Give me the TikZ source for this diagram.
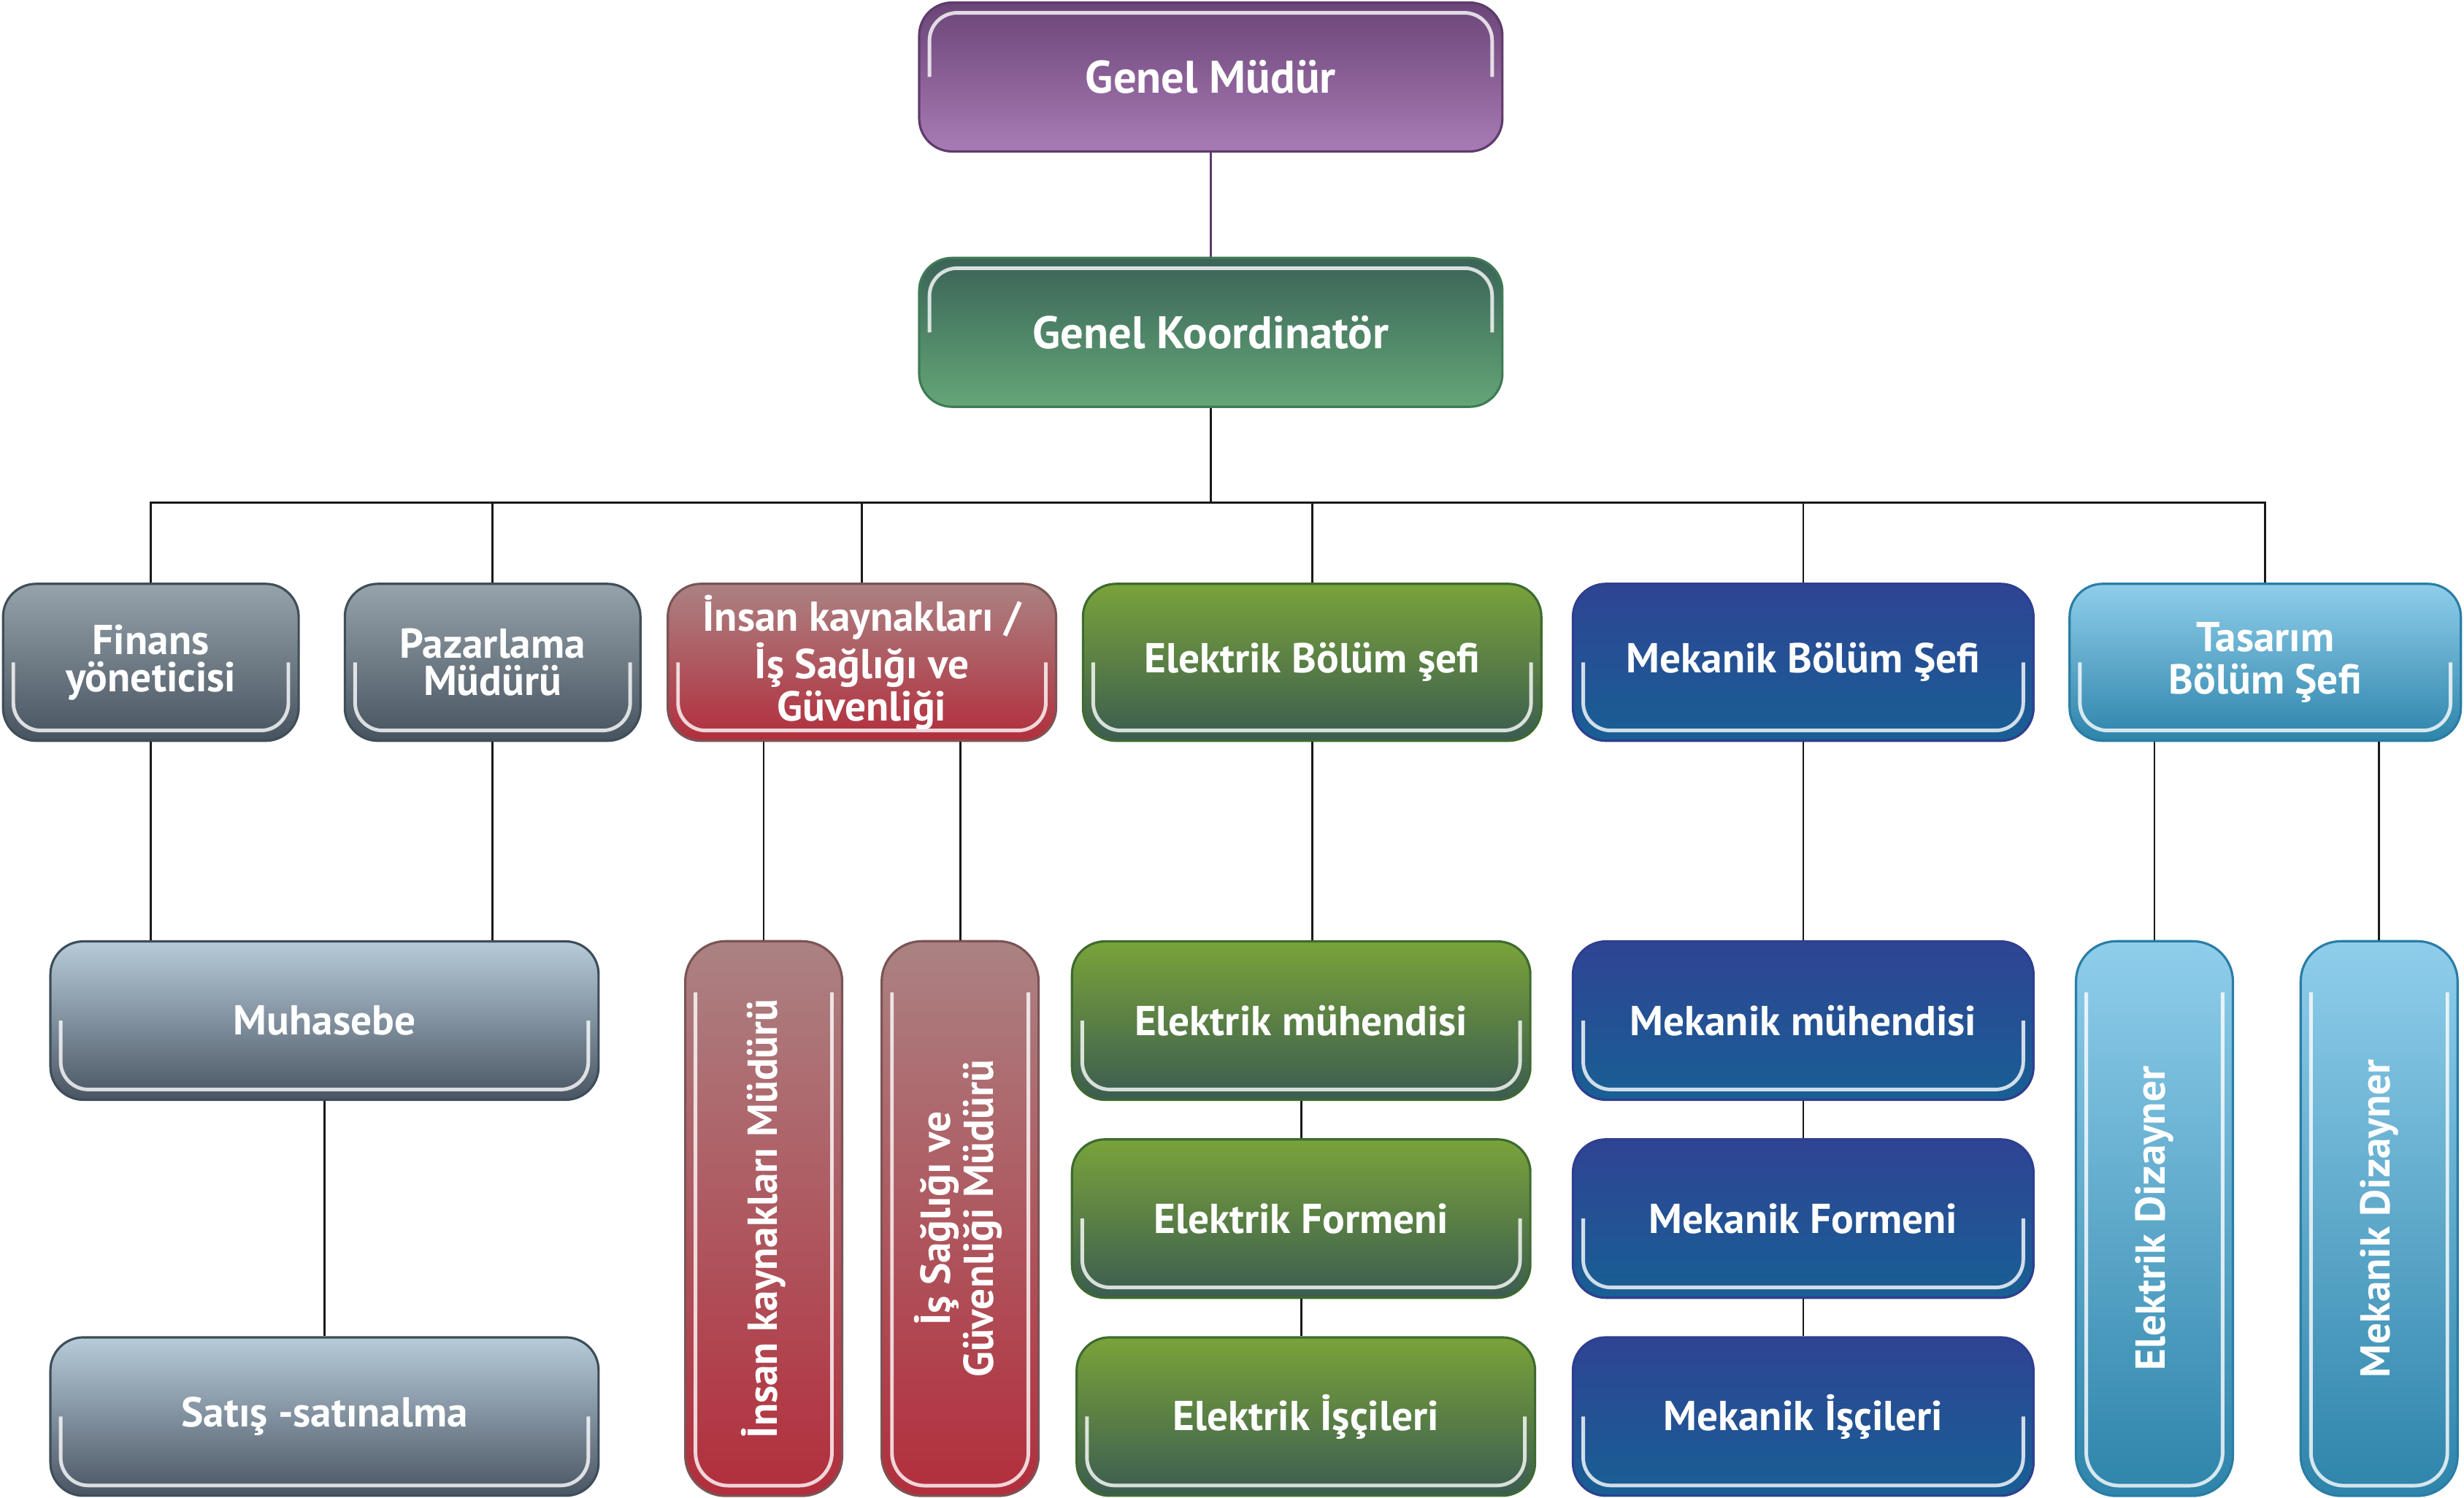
\documentclass[tikz,border=0pt]{standalone}
\usepackage{graphicx}
\usepackage{fontspec}
\setmainfont{PT Sans}
\usetikzlibrary{positioning}

\definecolor{gmtop}{HTML}{6B4578}
\definecolor{gmbot}{HTML}{A87BB5}
\definecolor{gmline}{HTML}{5F3B6B}
\definecolor{gktop}{HTML}{3A6358}
\definecolor{gkbot}{HTML}{64A677}
\definecolor{gkline}{HTML}{3F7B55}
\definecolor{graytop}{HTML}{96A3AB}
\definecolor{graybot}{HTML}{47535F}
\definecolor{grayline}{HTML}{3F4E57}
\definecolor{paletop}{HTML}{B7CBD9}
\definecolor{palebot}{HTML}{4A5563}
\definecolor{paleline}{HTML}{3E4D5A}
\definecolor{redtop}{HTML}{AB8283}
\definecolor{redbot}{HTML}{B22E3C}
\definecolor{redline}{HTML}{7B5455}
\definecolor{grtop}{HTML}{79A33A}
\definecolor{grbot}{HTML}{3B5C50}
\definecolor{grline}{HTML}{3E6A2F}
\definecolor{bltop}{HTML}{2F4494}
\definecolor{blbot}{HTML}{185F94}
\definecolor{blline}{HTML}{2E3F8F}
\definecolor{lbtop}{HTML}{8FCEEB}
\definecolor{lbbot}{HTML}{2E84AA}
\definecolor{lbline}{HTML}{2A7DA6}

\tikzset{
  glosstop/.style={path picture={\draw[white, line width=1.4pt, opacity=0.8, rounded corners=0.38cm]
      ([xshift=4pt]path picture bounding box.west) |- ([yshift=-4pt]path picture bounding box.north)
      -| ([xshift=-4pt]path picture bounding box.east);}},
  glossbot/.style={path picture={\draw[white, line width=1.4pt, opacity=0.8, rounded corners=0.38cm]
      ([xshift=4pt]path picture bounding box.west) |- ([yshift=4pt]path picture bounding box.south)
      -| ([xshift=-4pt]path picture bounding box.east);}},
  glosstall/.style={path picture={\draw[white, line width=1.4pt, opacity=0.8, rounded corners=0.45cm]
      ([xshift=4pt,yshift=-0.7cm]path picture bounding box.north west) |- ([yshift=4pt]path picture bounding box.south)
      -| ([xshift=-4pt,yshift=-0.7cm]path picture bounding box.north east);}},
  link/.style={draw=black!90, line width=0.8pt}
}

\begin{document}
\begin{tikzpicture}[x=0.021524cm, y=-0.021524cm,
  every node/.style={font=\bfseries\fontsize{16.3}{16.5}\selectfont, text=white, align=center,
    rounded corners=0.45cm, line width=0.9pt, inner sep=2pt},
  topbox/.style={minimum width=7.99cm, minimum height=2.04cm, font=\bfseries\fontsize{17.8}{18}\selectfont, glosstop},
  rowtwo/.style={minimum height=2.15cm, glossbot},
  rowthree/.style={minimum height=2.17cm, glossbot},
  tallbox/.style={minimum width=2.15cm, minimum height=7.60cm, rounded corners=0.55cm, glosstall},
  purplebox/.style={draw=gmline, top color=gmtop, bottom color=gmbot},
  greenbox/.style={draw=gkline, top color=gktop, bottom color=gkbot},
  graybox/.style={draw=grayline, top color=graytop, bottom color=graybot, font=\bfseries\fontsize{16.3}{14.5}\selectfont},
  palebox/.style={draw=paleline, top color=paletop, middle color=paletop!70!palebot, bottom color=palebot},
  redbox/.style={draw=redline, top color=redtop, bottom color=redbot},
  leafbox/.style={draw=grline, top color=grtop, middle color=grtop!85!grbot, bottom color=grbot},
  bluebox/.style={draw=blline, top color=bltop, bottom color=blbot},
  skybox/.style={draw=lbline, top color=lbtop, bottom color=lbbot}]

\useasboundingbox (0,0) rectangle (1568,953);

% Top of the chart
\node[topbox, purplebox] (gm) at (770.5,49) {Genel Müdür};
\node[topbox, greenbox] (gk) at (770.5,211.5) {Genel Koordinatör};

% Second row
\node[rowtwo, graybox, minimum width=4.05cm] (fin) at (96,421.5) {Finans\\yöneticisi};
\node[rowtwo, graybox, minimum width=4.05cm] (paz) at (313.5,421.5) {Pazarlama\\Müdürü};
\node[rowtwo, redbox, minimum width=5.32cm] (ik) at (548.5,421.5) {İnsan kaynakları /\\İş Sağlığı ve\\Güvenliği};
\node[rowtwo, leafbox, minimum width=6.28cm] (elb) at (835,421.5) {Elektrik Bölüm şefi};
\node[rowtwo, bluebox, minimum width=6.31cm] (meb) at (1147.5,421.5) {Mekanik Bölüm Şefi};
\node[rowtwo, skybox, minimum width=5.36cm] (tas) at (1441.5,421.5) {Tasarım\\Bölüm Şefi};

% Third row
\node[rowthree, palebox, minimum width=7.51cm] (muh) at (206.5,649.5) {Muhasebe};
\node[rowthree, palebox, minimum width=7.51cm] (sat) at (206.5,901.5) {Satış -satınalma};

\node[tallbox, redbox] (ikm) at (486,775.5) {\rotatebox{90}{İnsan kaynakları Müdürü}};
\node[tallbox, redbox] (isg) at (611,775.5) {\rotatebox{90}{\begin{tabular}{@{}c@{}}İş Sağlığı ve\\Güvenliği Müdürü\end{tabular}}};

\node[rowthree, leafbox, minimum width=6.28cm] (elm) at (828,649.5) {Elektrik mühendisi};
\node[rowthree, leafbox, minimum width=6.28cm] (elf) at (828,775.5) {Elektrik Formeni};
\node[rowthree, leafbox, minimum width=6.28cm] (eli) at (831,901.5) {Elektrik İşçileri};

\node[rowthree, bluebox, minimum width=6.31cm] (mem) at (1147.5,649.5) {Mekanik mühendisi};
\node[rowthree, bluebox, minimum width=6.31cm] (mef) at (1147.5,775.5) {Mekanik Formeni};
\node[rowthree, bluebox, minimum width=6.31cm] (mei) at (1147.5,901.5) {Mekanik İşçileri};

\node[tallbox, skybox] (eld) at (1371,775.5) {\rotatebox{90}{Elektrik Dizayner}};
\node[tallbox, skybox] (med) at (1514,775.5) {\rotatebox{90}{Mekanik Dizayner}};

% Connectors
\coordinate (bus) at (770.5,320);
\draw[link, draw=gmline] (gm) -- (gk);
\draw[link] (gk) -- (bus);
\foreach \n in {fin,paz,ik,elb,meb,tas} {
    \draw[link] (\n.north) |- (bus);
}

\draw[link] (fin.south) -- (fin.south |- muh.north);
\draw[link] (paz.south) -- (paz.south |- muh.north);
\draw[link] (muh) -- (sat);

\draw[link] (ikm.north |- ik.south) -- (ikm.north);
\draw[link] (isg.north |- ik.south) -- (isg.north);

\draw[link] (elb.south) -- (elb.south |- elm.north);
\draw[link] (elm) -- (elf);
\draw[link] (elf.south) -- (elf.south |- eli.north);

\draw[link] (meb) -- (mem);
\draw[link] (mem) -- (mef);
\draw[link] (mef) -- (mei);

\draw[link] (eld.north |- tas.south) -- (eld.north);
\draw[link] (med.north |- tas.south) -- (med.north);

\end{tikzpicture}
\end{document}
